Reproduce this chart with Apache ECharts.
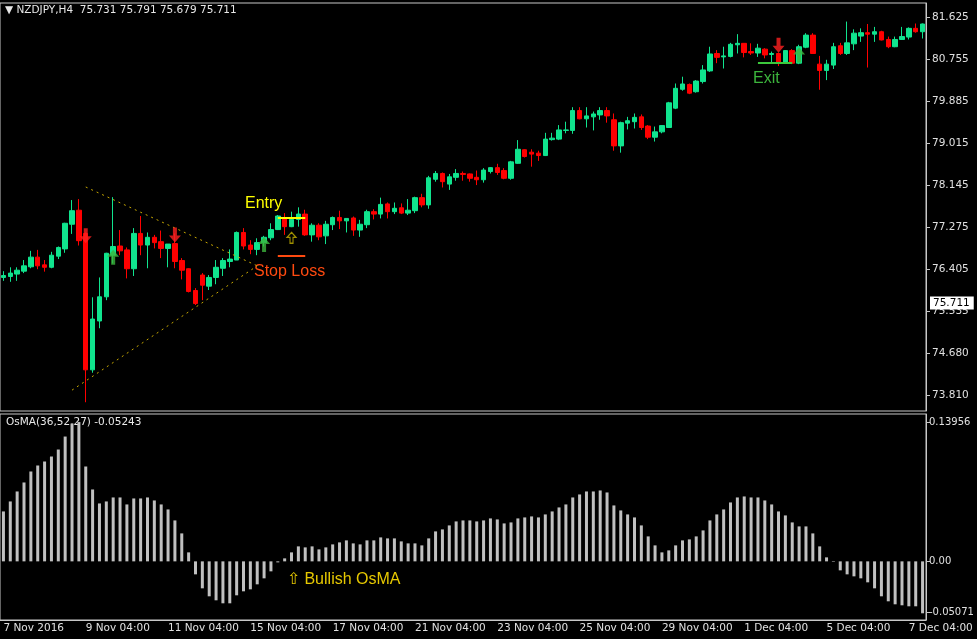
<!DOCTYPE html>
<html>
<head>
<meta charset="utf-8">
<script src="https://cdn.jsdelivr.net/npm/echarts@6/dist/echarts.min.js"></script>
<style>
  html, body { margin: 0; padding: 0; background: #000; }
  #chart { width: 977px; height: 639px; }
</style>
</head>
<body>
<div id="chart"></div>
<script>
// NZDJPY H4 candles
const opens = [
  76.24, 76.26, 76.31, 76.37, 76.46, 76.66, 76.50, 76.45, 76.68, 76.83,
  77.34, 77.63, 77.15, 74.33, 75.34, 75.84, 76.70, 76.89, 76.81, 76.42,
  77.15, 76.91, 77.07, 76.98, 76.84, 76.94, 76.59, 76.42, 75.97, 76.29,
  76.06, 76.24, 76.43, 76.57, 76.60, 77.17, 76.91, 76.82, 76.96, 77.06,
  77.23, 77.48, 77.29, 77.44, 77.55, 77.12, 77.32, 77.10, 77.33, 77.48,
  77.41, 77.47, 77.22, 77.33, 77.60, 77.55, 77.76, 77.60, 77.68, 77.57,
  77.62, 77.89, 77.74, 78.27, 78.39, 78.17, 78.31, 78.39, 78.38, 78.31,
  78.26, 78.43, 78.51, 78.45, 78.29, 78.60, 78.88, 78.83, 78.81, 78.76,
  79.09, 79.10, 79.28, 79.28, 79.69, 79.52, 79.56, 79.60, 79.69, 79.50,
  78.96, 79.43, 79.46, 79.56, 79.37, 79.14, 79.25, 79.34, 79.74, 80.13,
  80.23, 80.08, 80.29, 80.51, 80.87, 80.80, 80.81, 81.05, 81.08, 80.91,
  80.88, 80.96, 80.85, 80.87, 80.67, 80.93, 80.67, 81.00, 81.25, 80.65,
  80.52, 80.63, 81.03, 80.87, 81.07, 81.23, 81.30, 81.27, 81.32, 81.16,
  81.01, 81.16, 81.21, 81.39, 81.32
]
const closes = [
  76.28, 76.33, 76.39, 76.48, 76.66, 76.48, 76.45, 76.70, 76.86, 77.36,
  77.62, 77.00, 74.33, 75.38, 75.84, 76.74, 76.88, 76.79, 76.42, 77.15,
  76.91, 77.07, 76.96, 76.84, 76.93, 76.57, 76.39, 75.95, 75.70, 76.08,
  76.24, 76.45, 76.59, 76.62, 77.17, 76.89, 76.82, 76.96, 77.07, 77.23,
  77.51, 77.29, 77.44, 77.55, 77.12, 77.32, 77.08, 77.34, 77.48, 77.41,
  77.46, 77.22, 77.34, 77.60, 77.55, 77.75, 77.60, 77.67, 77.57, 77.63,
  77.89, 77.74, 78.30, 78.39, 78.22, 78.32, 78.39, 78.37, 78.29, 78.26,
  78.46, 78.51, 78.41, 78.29, 78.63, 78.89, 78.74, 78.79, 78.76, 79.10,
  79.12, 79.29, 79.29, 79.69, 79.52, 79.58, 79.62, 79.69, 79.58, 78.96,
  79.44, 79.48, 79.55, 79.34, 79.14, 79.25, 79.38, 79.85, 80.15, 80.24,
  80.05, 80.30, 80.53, 80.86, 80.79, 80.82, 81.06, 81.08, 80.89, 80.88,
  80.98, 80.84, 80.87, 80.67, 80.93, 80.67, 81.01, 81.25, 80.87, 80.52,
  80.65, 81.01, 80.87, 81.09, 81.29, 81.30, 81.27, 81.32, 81.15, 81.01,
  81.16, 81.22, 81.39, 81.32, 81.48
]
const lows = [
  76.17, 76.15, 76.17, 76.33, 76.43, 76.41, 76.36, 76.43, 76.62, 76.75,
  77.14, 76.90, 73.66, 74.27, 75.19, 75.77, 76.53, 76.70, 76.22, 76.27,
  76.70, 76.43, 76.84, 76.64, 76.45, 76.43, 76.20, 75.93, 75.67, 75.77,
  75.98, 76.10, 76.27, 76.45, 76.60, 76.82, 76.72, 76.70, 76.88, 77.01,
  77.22, 77.12, 77.28, 77.29, 77.10, 76.98, 77.01, 76.93, 77.22, 77.24,
  77.17, 77.10, 77.08, 77.26, 77.44, 77.46, 77.46, 77.55, 77.55, 77.53,
  77.57, 77.69, 77.66, 78.22, 78.10, 78.05, 78.24, 78.24, 78.22, 78.15,
  78.20, 78.39, 78.36, 78.27, 78.26, 78.59, 78.72, 78.53, 78.65, 78.75,
  79.07, 79.08, 79.22, 79.21, 79.51, 79.34, 79.28, 79.50, 79.44, 78.86,
  78.82, 79.30, 79.32, 79.29, 79.10, 79.05, 79.22, 79.34, 79.72, 80.10,
  80.03, 80.06, 80.25, 80.49, 80.67, 80.56, 80.79, 80.87, 80.79, 80.84,
  80.80, 80.77, 80.68, 80.61, 80.66, 80.65, 80.65, 80.98, 80.86, 80.12,
  80.32, 80.55, 80.84, 80.84, 80.94, 81.11, 80.58, 81.11, 81.14, 80.98,
  81.00, 81.15, 81.16, 81.30, 81.18
]
const highs = [
  76.37, 76.45, 76.45, 76.60, 76.79, 76.81, 76.60, 76.77, 76.88, 77.37,
  77.84, 77.86, 77.17, 75.83, 76.24, 76.75, 77.90, 77.22, 76.86, 77.26,
  77.51, 77.17, 77.12, 77.21, 76.93, 77.15, 76.64, 76.43, 76.02, 76.33,
  76.29, 76.60, 76.64, 76.82, 77.19, 77.26, 77.01, 77.05, 77.10, 77.36,
  77.53, 77.57, 77.60, 77.69, 77.64, 77.36, 77.36, 77.41, 77.50, 77.62,
  77.46, 77.50, 77.43, 77.64, 77.65, 77.89, 77.79, 77.79, 77.77, 77.86,
  77.91, 77.97, 78.34, 78.44, 78.41, 78.38, 78.48, 78.43, 78.39, 78.45,
  78.50, 78.52, 78.59, 78.50, 78.65, 79.08, 78.89, 78.89, 78.86, 79.23,
  79.23, 79.39, 79.46, 79.76, 79.76, 79.76, 79.67, 79.76, 79.76, 79.63,
  79.46, 79.56, 79.63, 79.61, 79.39, 79.36, 79.39, 79.87, 80.25, 80.39,
  80.25, 80.32, 80.63, 81.01, 80.94, 81.01, 81.09, 81.27, 81.08, 81.08,
  81.07, 80.98, 80.91, 80.89, 80.94, 80.96, 81.05, 81.29, 81.29, 80.82,
  80.74, 81.09, 81.09, 81.53, 81.37, 81.39, 81.48, 81.42, 81.34, 81.22,
  81.22, 81.42, 81.41, 81.49, 81.49
]

// OsMA(36,52,27) histogram
const osma = [
  0.050, 0.060, 0.070, 0.079, 0.090, 0.096, 0.100, 0.105, 0.112, 0.125,
  0.138, 0.1395, 0.095, 0.072, 0.058, 0.060, 0.064, 0.064, 0.057, 0.063,
  0.063, 0.064, 0.061, 0.057, 0.052, 0.041, 0.028, 0.009, -0.013, -0.027,
  -0.035, -0.039, -0.042, -0.042, -0.034, -0.030, -0.028, -0.023, -0.017, -0.010,
  -0.001, 0.003, 0.009, 0.015, 0.014, 0.015, 0.012, 0.014, 0.017, 0.019,
  0.021, 0.018, 0.017, 0.021, 0.021, 0.024, 0.023, 0.023, 0.020, 0.018,
  0.018, 0.016, 0.023, 0.030, 0.032, 0.036, 0.040, 0.041, 0.041, 0.040,
  0.041, 0.043, 0.042, 0.038, 0.039, 0.043, 0.044, 0.045, 0.044, 0.047,
  0.050, 0.054, 0.057, 0.064, 0.067, 0.070, 0.070, 0.071, 0.069, 0.056,
  0.051, 0.047, 0.044, 0.036, 0.025, 0.016, 0.009, 0.011, 0.016, 0.021,
  0.022, 0.025, 0.031, 0.041, 0.047, 0.052, 0.059, 0.064, 0.065, 0.064,
  0.064, 0.061, 0.057, 0.050, 0.046, 0.039, 0.035, 0.035, 0.028, 0.015,
  0.004, -0.0005, -0.009, -0.013, -0.015, -0.017, -0.021, -0.027, -0.035, -0.040,
  -0.043, -0.044, -0.045, -0.045, -0.052
]

const timeLabels = [
  '7 Nov 2016', '9 Nov 04:00', '11 Nov 04:00', '15 Nov 04:00', '17 Nov 04:00', '21 Nov 04:00',
  '23 Nov 04:00', '25 Nov 04:00', '29 Nov 04:00', '1 Dec 04:00', '5 Dec 04:00', '7 Dec 04:00'
]
const priceTicks = [81.625, 80.755, 79.885, 79.015, 78.145, 77.275, 76.405, 75.535, 74.680, 73.810]
const osmaTicks = [0.13956, 0, -0.05071]
const lastPrice = 75.711

// signal arrows [candle index, price]
const sellArrows = [[12, 77.10], [25, 77.12], [113, 81.04]]
const buyArrows = [[16, 76.66], [38, 76.92], [116, 80.84]]
const hintArrows = [[42, 77.06]]

const categories = opens.map((v, i) => String(i))
const candles = opens.map((o, i) => [o, closes[i], lows[i], highs[i]])

const FONT = 'DejaVu Sans'
const UP = 'path://M6,0 L12,7 L8,7 L8,15 L4,15 L4,7 L0,7 Z'

const chart = echarts.init(document.getElementById('chart'), null, { renderer: 'canvas' })

function seg(x1, y1, x2, y2, color, type, width) {
  return [
    { coord: [x1, y1], lineStyle: { color, type, width } },
    { coord: [x2, y2] }
  ]
}

chart.setOption({
  backgroundColor: '#000',
  animation: false,
  grid: [
    { left: 0, right: 51, top: 3, height: 408, show: true, borderColor: '#c8c8c8', borderWidth: 1, outerBoundsMode: 'none', containLabel: false },
    { left: 0, right: 51, top: 414, height: 206, show: true, borderColor: '#c8c8c8', borderWidth: 1, outerBoundsMode: 'none', containLabel: false }
  ],
  xAxis: [
    {
      type: 'category', gridIndex: 0, data: categories,
      axisLine: { show: false }, axisTick: { show: false }, axisLabel: { show: false }
    },
    {
      type: 'category', gridIndex: 1, data: categories,
      axisLine: { onZero: false, lineStyle: { color: '#c8c8c8' } },
      axisTick: { interval: 11, length: 4, alignWithLabel: true, lineStyle: { color: '#c8c8c8' } },
      axisLabel: {
        interval: 11, color: '#e0e0e0', fontFamily: FONT, fontSize: 10.5, align: 'left', margin: 3,
        formatter: (v, i) => timeLabels[i / 12] || ''
      }
    }
  ],
  yAxis: [
    {
      type: 'value', gridIndex: 0, position: 'right', min: 73.479, max: 81.914,
      splitLine: { show: false },
      axisLine: { show: true, lineStyle: { color: '#c8c8c8' } },
      axisTick: { show: true, customValues: priceTicks, length: 4, lineStyle: { color: '#c8c8c8' } },
      axisLabel: {
        customValues: priceTicks, color: '#e0e0e0', fontFamily: FONT, fontSize: 10.5, margin: 6,
        formatter: v => v.toFixed(3)
      }
    },
    {
      type: 'value', gridIndex: 1, position: 'right', min: -0.05872, max: 0.14757,
      splitLine: { show: false },
      axisLine: { show: true, lineStyle: { color: '#c8c8c8' } },
      axisTick: { show: true, customValues: osmaTicks, length: 4, lineStyle: { color: '#c8c8c8' } },
      axisLabel: {
        customValues: osmaTicks, color: '#e0e0e0', fontFamily: FONT, fontSize: 10, margin: 3,
        formatter: v => (v === 0 ? '0.00' : String(v))
      }
    }
  ],
  series: [
    {
      type: 'candlestick', xAxisIndex: 0, yAxisIndex: 0, data: candles, barWidth: 5,
      itemStyle: { color: '#10e48e', color0: '#ff0000', borderColor: '#10e48e', borderColor0: '#ff0000', borderWidth: 1 },
      markLine: {
        symbol: 'none', silent: true, animation: false,
        label: { show: false },
        data: [
          // triangle
          seg(12, 78.11, 37, 76.48, '#c8a800', [2, 4], 1),
          seg(10, 73.91, 37, 76.48, '#c8a800', [2, 4], 1),
          // entry / stop loss / exit
          seg(40, 77.47, 44, 77.47, '#ffff00', 'solid', 2),
          seg(40, 76.68, 44, 76.68, '#ff4a10', 'solid', 2),
          seg(110, 80.67, 115, 80.67, '#3cc83c', 'solid', 2)
        ]
      }
    },
    {
      type: 'line', xAxisIndex: 0, yAxisIndex: 0, data: [], silent: true,
      markLine: {
        symbol: 'none', silent: true, animation: false,
        lineStyle: { color: 'rgba(0,0,0,0)', width: 1, type: 'solid' },
        label: {
          show: true, position: 'end', distance: 4, formatter: lastPrice.toFixed(3),
          backgroundColor: '#fff', color: '#000', padding: [1, 4, 1, 3],
          fontFamily: FONT, fontSize: 10.5
        },
        data: [{ yAxis: lastPrice }]
      }
    },
    {
      type: 'scatter', xAxisIndex: 0, yAxisIndex: 0, data: sellArrows, z: 5,
      symbol: UP, symbolSize: [12, 15], symbolRotate: 180,
      itemStyle: { color: '#ff2020' }
    },
    {
      type: 'scatter', xAxisIndex: 0, yAxisIndex: 0, data: buyArrows, z: 5,
      symbol: UP, symbolSize: [12, 15],
      itemStyle: { color: '#3cb43c' }
    },
    {
      type: 'scatter', xAxisIndex: 0, yAxisIndex: 0, data: hintArrows, z: 5,
      symbol: UP, symbolSize: [9, 11],
      itemStyle: { color: 'rgba(0,0,0,0)', borderColor: '#c8b400', borderWidth: 1.2 }
    },
    {
      type: 'bar', xAxisIndex: 1, yAxisIndex: 1, data: osma, barWidth: 3,
      itemStyle: { color: '#c0c0c0' }
    }
  ],
  graphic: [
    { type: 'text', left: 5, top: 5, style: { text: '▼ NZDJPY,H4  75.731 75.791 75.679 75.711', fill: '#e8e8e8', font: '10.5px ' + FONT } },
    { type: 'text', left: 6, top: 417, style: { text: 'OsMA(36,52,27) -0.05243', fill: '#e8e8e8', font: '10.5px ' + FONT } },
    { type: 'text', left: 245, top: 196, style: { text: 'Entry', fill: '#ffff00', font: '16px "Liberation Sans"' } },
    { type: 'text', left: 254, top: 264, style: { text: 'Stop Loss', fill: '#ff4a10', font: '16px "Liberation Sans"' } },
    { type: 'text', left: 753, top: 71, style: { text: 'Exit', fill: '#3cb43c', font: '16px "Liberation Sans"' } },
    { type: 'text', left: 287, top: 572, style: { text: '⇧ Bullish OsMA', fill: '#e6c800', font: '16px "Liberation Sans"' } }
  ]
})
</script>
</body>
</html>
